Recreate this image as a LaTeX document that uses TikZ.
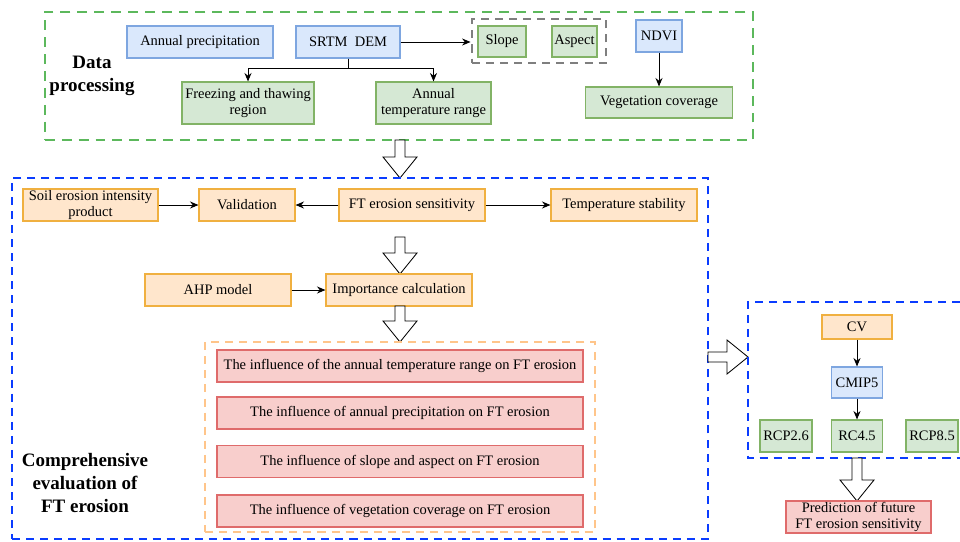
\documentclass[tikz,border=0pt]{standalone}
\usepackage{fontspec}
\setmainfont{Liberation Serif}
\usetikzlibrary{arrows.meta}

\definecolor{fillblue}{HTML}{DAE8FC}
\definecolor{drawblue}{HTML}{7EA6E0}
\definecolor{fillgreen}{HTML}{D5E8D4}
\definecolor{drawgreen}{HTML}{82B366}
\definecolor{fillorange}{HTML}{FFE6CC}
\definecolor{draworange}{HTML}{F0B040}
\definecolor{fillred}{HTML}{F8CECC}
\definecolor{drawred}{HTML}{DF6B6B}
\definecolor{framegreen}{HTML}{5CB85C}
\definecolor{frameblue}{HTML}{0A3CFF}
\definecolor{framegray}{HTML}{7F7F7F}
\definecolor{frameorange}{HTML}{FFC58A}

\tikzset{
  box/.style={draw, line width=0.8pt, inner sep=1pt, align=center, font=\fontsize{10.3}{11.3}\selectfont},
  boxsize/.style 2 args={minimum width=#1*0.025cm, minimum height=#2*0.025cm},
  bluebox/.style={box, draw=drawblue, fill=fillblue},
  greenbox/.style={box, draw=drawgreen, fill=fillgreen},
  orangebox/.style={box, draw=draworange, fill=fillorange},
  redbox/.style={box, draw=drawred, fill=fillred},
  greenframe/.style={draw=framegreen, line width=1.8pt, dash pattern=on 7pt off 5pt, inner sep=0pt},
  blueframe/.style={draw=frameblue, line width=2.1pt, dash pattern=on 5.7pt off 4.3pt, inner sep=0pt},
  grayframe/.style={draw=framegray, line width=2.1pt, dash pattern=on 5.7pt off 4.3pt, inner sep=0pt},
  orangeframe/.style={draw=frameorange, line width=1.6pt, dash pattern=on 5.7pt off 4.3pt, inner sep=0pt},
  title/.style={align=center, font=\fontsize{13.5}{16.5}\selectfont\bfseries},
  pics/hollowarrow/.style={code={
    \draw[line width=0.6pt, fill=white] (0,-5) -- (#1-21,-5) -- (#1-21,-17) -- (#1,0)
      -- (#1-21,17) -- (#1-21,5) -- (0,5) -- cycle;}}
}

\begin{document}
\begin{tikzpicture}[x=0.025cm, y=-0.025cm, >={Stealth[length=6pt,width=5pt]}, line width=0.6pt]
    \useasboundingbox (0,0) rectangle (960,541);

    % data processing
    \node[greenframe, boxsize={708}{128}] (data) at (399,76) {};
    \node[title] (dplabel) at (92,76) {Data\\processing};
    \node[bluebox, boxsize={146}{32}] (prec) at (200,42) {Annual precipitation};
    \node[bluebox, boxsize={104}{32}] (dem) at (348,42) {SRTM\ \ DEM};
    \node[grayframe, boxsize={134}{44}] (topo) at (539,41) {};
    \node[greenbox, boxsize={48}{31}] (slope) at (502,41.5) {Slope};
    \node[greenbox, boxsize={45}{31}] (aspect) at (574.5,41.5) {Aspect};
    \node[bluebox, boxsize={46}{32}] (ndvi) at (659,36) {NDVI};
    \node[greenbox, boxsize={147}{31}] (veg) at (659,102.5) {Vegetation coverage};
    \node[greenbox, boxsize={132}{42}] (freeze) at (248,103) {Freezing and thawing\\region};
    \node[greenbox, boxsize={115}{42}] (range) at (433.5,103) {Annual\\temperature range};
    \draw[->] (dem.east) -- (dem.east -| topo.west);
    \draw[->] (dem.south) -- ++(0,10) -| (freeze.north);
    \draw[->] (dem.south) -- ++(0,10) -| (range.north);
    \draw[->] (ndvi.south) -- (veg.north);

    \pic[rotate=-90] at (400,140) {hollowarrow=38};

    % comprehensive evaluation
    \node[blueframe, boxsize={696}{361}] (main) at (360,358.5) {};
    \node[orangebox, boxsize={135}{32}] (soil) at (90.5,205) {Soil erosion intensity\\product};
    \node[orangebox, boxsize={96}{32}] (valid) at (247,205) {Validation};
    \node[orangebox, boxsize={146}{32}] (ftes) at (412,205) {FT erosion sensitivity};
    \node[orangebox, boxsize={146}{32}] (temp) at (624,205) {Temperature stability};
    \draw[->] (soil.east) -- (valid.west);
    \draw[->] (ftes.west) -- (valid.east);
    \draw[->] (ftes.east) -- (temp.west);

    \pic[rotate=-90] at (400,237) {hollowarrow=37};

    \node[orangebox, boxsize={146}{32}] (ahp) at (218,290) {AHP model};
    \node[orangebox, boxsize={146}{32}] (imp) at (399,290) {Importance calculation};
    \draw[->] (ahp.east) -- (imp.west);

    \pic[rotate=-90] at (400,306) {hollowarrow=36};

    \node[orangeframe, boxsize={390}{190}] (factors) at (400,437) {};
    \node[redbox, boxsize={366}{32}] (inf1) at (400,366) {The influence of the annual temperature range on FT erosion};
    \node[redbox, boxsize={366}{32}] (inf2) at (400,413) {The influence of annual precipitation on FT erosion};
    \node[redbox, boxsize={366}{32}] (inf3) at (400,461.5) {The influence of slope and aspect on FT erosion};
    \node[redbox, boxsize={366}{32}] (inf4) at (400,511) {The influence of vegetation coverage on FT erosion};
    \node[title] (celabel) at (85,483) {Comprehensive\\evaluation of\\FT erosion};

    \pic at (708,357) {hollowarrow=40};

    % prediction
    \draw[blueframe] (960,302) -- (748,302) -- (748,458) -- (960,458);
    \node[orangebox, boxsize={70}{24}] (cv) at (857,327) {CV};
    \node[bluebox, boxsize={51}{31}] (cmip) at (857,382.5) {CMIP5};
    \node[greenbox, boxsize={52}{32}] (rcp26) at (786,436) {RCP2.6};
    \node[greenbox, boxsize={51}{32}] (rc45) at (857,436) {RC4.5};
    \node[greenbox, boxsize={52}{32}] (rcp85) at (932,436) {RCP8.5};
    \draw[->] (cv.south) -- (cmip.north);
    \draw[->] (cmip.south) -- (rc45.north);

    \pic[rotate=-90] at (857,458) {hollowarrow=43};

    \node[redbox, boxsize={145}{32}] (pred) at (858.5,517) {Prediction of future\\FT erosion sensitivity};
\end{tikzpicture}
\end{document}
